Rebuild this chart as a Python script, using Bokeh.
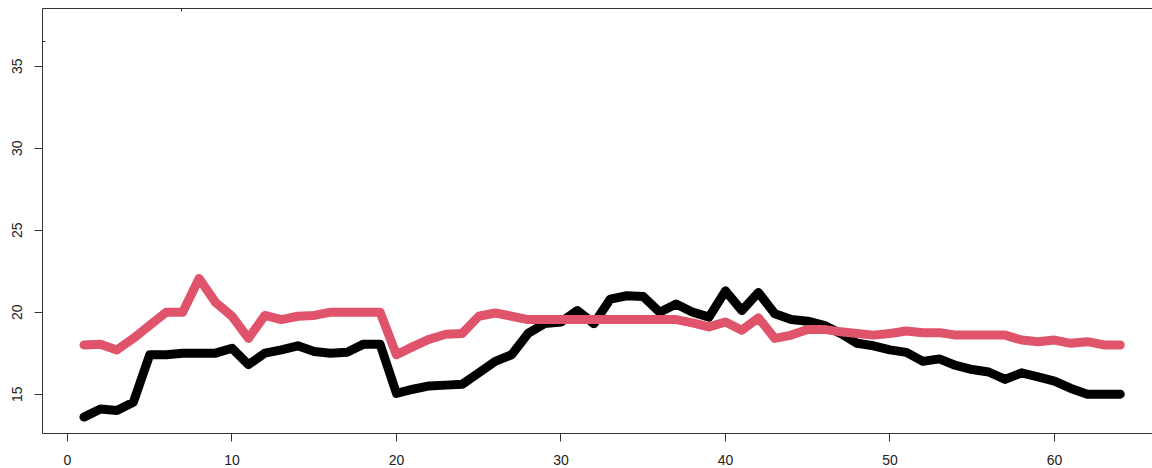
from bokeh.plotting import figure
from bokeh.models import Range1d, FixedTicker, LinearAxis
from bokeh.embed import file_html
from bokeh.resources import INLINE

x_index = list(range(1, 65))
series_black = [13.6, 14.1, 14.0, 14.5, 17.4, 17.4, 17.5, 17.5, 17.5, 17.8,
                16.8, 17.5, 17.7, 17.95, 17.6, 17.5, 17.55, 18.05, 18.05, 15.05,
                15.3, 15.5, 15.55, 15.6, 16.3, 17.0, 17.4, 18.7, 19.3, 19.4,
                20.1, 19.3, 20.8, 21.0, 20.95, 20.0, 20.5, 20.0, 19.7, 21.3,
                20.1, 21.2, 19.9, 19.55, 19.45, 19.2, 18.7, 18.1, 17.95, 17.7,
                17.55, 17.0, 17.15, 16.75, 16.5, 16.35, 15.9, 16.3, 16.05, 15.8,
                15.35, 15.0, 15.0, 15.0]
series_red = [18.0, 18.05, 17.7, 18.4, 19.2, 20.0, 20.0, 22.05, 20.6, 19.75,
              18.4, 19.8, 19.55, 19.75, 19.8, 20.0, 20.0, 20.0, 20.0, 17.4,
              17.9, 18.35, 18.65, 18.7, 19.75, 19.95, 19.75, 19.55, 19.55, 19.55,
              19.55, 19.55, 19.55, 19.55, 19.55, 19.55, 19.55, 19.35, 19.1, 19.4,
              18.9, 19.65, 18.4, 18.6, 18.95, 18.95, 18.8, 18.7, 18.6, 18.7,
              18.85, 18.75, 18.75, 18.6, 18.6, 18.6, 18.6, 18.3, 18.2, 18.3,
              18.1, 18.2, 18.0, 18.0]
x_ticks = [0, 10, 20, 30, 40, 50, 60]
y_ticks = [15, 20, 25, 30, 35]

FONT = "Liberation Sans"
AXC = "#333333"
LBC = "#222222"

p = figure(width=1152, height=468, output_backend="svg", toolbar_location=None,
           x_range=Range1d(-1.52, 65.96), y_range=Range1d(12.60, 38.52),
           x_axis_location=None, y_axis_location=None,
           min_border_left=42, min_border_right=0, min_border_top=8,
           min_border_bottom=35)
p.outline_line_color = None
p.xgrid.visible = False
p.ygrid.visible = False
p.background_fill_color = "white"
p.border_fill_color = "white"

xb = LinearAxis(ticker=FixedTicker(ticks=x_ticks, minor_ticks=[]))
yl = LinearAxis(ticker=FixedTicker(ticks=y_ticks, minor_ticks=[36.5]))
xt = LinearAxis(ticker=FixedTicker(ticks=[], minor_ticks=[6.9]))
for ax in (xb, yl, xt):
    ax.axis_line_color = AXC
    ax.axis_line_width = 1
    ax.major_tick_line_color = AXC
    ax.minor_tick_line_color = AXC
    ax.major_tick_out = 8
    ax.major_tick_in = 0
    ax.minor_tick_in = 3
    ax.minor_tick_out = 0
    ax.major_label_text_font = FONT
    ax.major_label_text_font_size = "14px"
    ax.major_label_text_color = LBC
xb.major_label_standoff = 13
yl.major_label_standoff = 12
yl.major_label_orientation = "vertical"
xt.major_tick_out = 0
xt.major_label_standoff = 0
xt.major_label_text_font_size = "0px"
p.add_layout(xb, "below")
p.add_layout(yl, "left")
p.add_layout(xt, "above")

p.line(x_index, series_black, line_color="black", line_width=9,
       line_cap="round", line_join="round")
p.line(x_index, series_red, line_color="#DF536B", line_width=9,
       line_cap="round", line_join="round")

open("out.html", "w").write(file_html(p, INLINE))
